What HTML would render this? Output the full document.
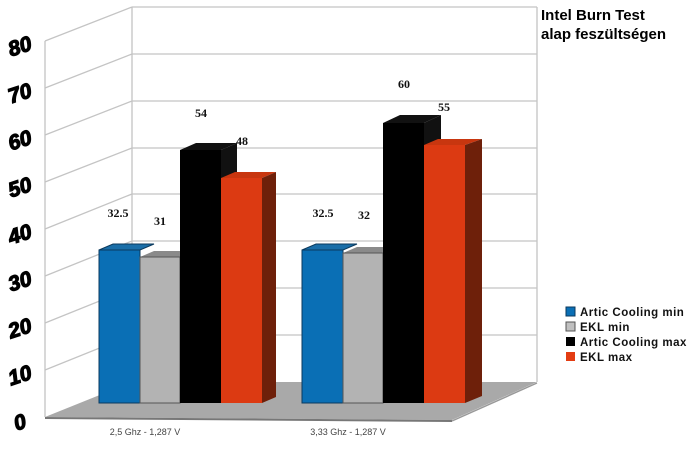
<!DOCTYPE html>
<html><head><meta charset="utf-8"><style>
html,body{margin:0;padding:0;background:#fff;width:700px;height:450px;overflow:hidden}
svg{display:block}
.yl{font-family:"Liberation Sans",sans-serif;font-weight:900;font-size:21px;font-style:italic;fill:#000;stroke:#000;stroke-width:1.2}
.vl{font-family:"Liberation Serif",serif;font-weight:bold;font-size:12px;fill:#111}
.lg{font-family:"Liberation Sans",sans-serif;font-weight:bold;font-size:11.5px;fill:#111;letter-spacing:0.5px}
</style></head><body>
<svg width="700" height="450" viewBox="0 0 700 450">
<polygon points="132,382 537,382 452,420 45,417" fill="#a9a9a9"/>
<line x1="45" y1="418" x2="452" y2="421" stroke="#777" stroke-width="2"/>
<line x1="452" y1="421" x2="537" y2="383" stroke="#999" stroke-width="1.5"/>
<g stroke="#c4c4c4" stroke-width="1.3" fill="none">
<line x1="132" y1="7" x2="132" y2="382"/>
<line x1="537" y1="7" x2="537" y2="382"/>
<line x1="132" y1="7" x2="45" y2="41"/>
<line x1="45" y1="41" x2="45" y2="417"/>
<line x1="132" y1="7" x2="537" y2="7"/>
<line x1="132" y1="54" x2="537" y2="54"/><line x1="132" y1="54" x2="45" y2="88"/>
<line x1="132" y1="101" x2="537" y2="101"/><line x1="132" y1="101" x2="45" y2="135"/>
<line x1="132" y1="148" x2="537" y2="148"/><line x1="132" y1="148" x2="45" y2="182"/>
<line x1="132" y1="194" x2="537" y2="194"/><line x1="132" y1="194" x2="45" y2="229"/>
<line x1="132" y1="241" x2="537" y2="241"/><line x1="132" y1="241" x2="45" y2="276"/>
<line x1="132" y1="288" x2="537" y2="288"/><line x1="132" y1="288" x2="45" y2="323"/>
<line x1="132" y1="335" x2="537" y2="335"/><line x1="132" y1="335" x2="45" y2="370"/>
</g>
<g stroke-width="1">
<polygon points="99,250 113,244 154,244 140,250" fill="#1a6ea8" stroke="#0b3a5e"/>
<rect x="99" y="250" width="41" height="153" fill="#0a6fb5" stroke="#0b3a5e"/>
<polygon points="140,257 154,251 194,251 180,257" fill="#8a8a8a"/>
<rect x="140" y="257" width="40" height="146" fill="#b3b3b3" stroke="#555"/>
<polygon points="180,150 196,143 237,143 221,150" fill="#111"/>
<rect x="180" y="150" width="41" height="253" fill="#000"/>
<polygon points="221,150 237,143 237,396 221,403" fill="#111"/>
<polygon points="221,178 235,172 276,172 262,178" fill="#c8360f"/>
<rect x="221" y="178" width="41" height="225" fill="#dc3a12"/>
<polygon points="262,178 276,172 276,397 262,403" fill="#6e200a"/>
<polygon points="302,250 316,244 357,244 343,250" fill="#1a6ea8" stroke="#0b3a5e"/>
<rect x="302" y="250" width="41" height="153" fill="#0a6fb5" stroke="#0b3a5e"/>
<polygon points="343,253 357,247 397,247 383,253" fill="#8a8a8a"/>
<rect x="343" y="253" width="40" height="150" fill="#b3b3b3" stroke="#555"/>
<polygon points="383,123 400,115 441,115 424,123" fill="#111"/>
<rect x="383" y="123" width="41" height="280" fill="#000"/>
<polygon points="424,123 441,115 441,396 424,403" fill="#111"/>
<polygon points="424,145 438,139 482,139 465,145" fill="#c8360f"/>
<rect x="424" y="145" width="41" height="258" fill="#dc3a12"/>
<polygon points="465,145 482,139 482,396 465,403" fill="#6e200a"/>
</g>
<g class="vl" text-anchor="middle">
<text x="118" y="217">32.5</text><text x="160" y="225">31</text>
<text x="201" y="117">54</text><text x="242" y="145">48</text>
<text x="323" y="217">32.5</text><text x="364" y="219">32</text>
<text x="404" y="88">60</text><text x="444" y="111">55</text>
</g>
<g class="yl" text-anchor="middle">
<text transform="translate(22,429) rotate(-18)">0</text>
<text transform="translate(22,382) rotate(-18)">10</text>
<text transform="translate(22,335) rotate(-18)">20</text>
<text transform="translate(22,288) rotate(-18)">30</text>
<text transform="translate(22,241) rotate(-18)">40</text>
<text transform="translate(22,194) rotate(-18)">50</text>
<text transform="translate(22,147) rotate(-18)">60</text>
<text transform="translate(22,100) rotate(-18)">70</text>
<text transform="translate(22,53) rotate(-18)">80</text>
</g>
<g font-family="Liberation Sans,sans-serif" font-size="9" fill="#444" text-anchor="middle">
<text x="145" y="435">2,5 Ghz - 1,287 V</text>
<text x="348" y="435">3,33 Ghz - 1,287 V</text>
</g>
<g font-family="Liberation Sans,sans-serif" font-weight="bold" font-size="15" fill="#000">
<text x="541" y="20">Intel Burn Test</text>
<text x="541" y="39">alap feszültségen</text>
</g>
<rect x="566" y="307" width="9" height="9" fill="#0a6fb5" stroke="#0b3a5e"/>
<rect x="566" y="322" width="9" height="9" fill="#c0c0c0" stroke="#555"/>
<rect x="566" y="337" width="9" height="9" fill="#000"/>
<rect x="566" y="352" width="9" height="9" fill="#e33c12"/>
<text class="lg" x="580" y="316">Artic Cooling min</text>
<text class="lg" x="580" y="331">EKL min</text>
<text class="lg" x="580" y="346">Artic Cooling max</text>
<text class="lg" x="580" y="361">EKL max</text>
</svg>
</body></html>
